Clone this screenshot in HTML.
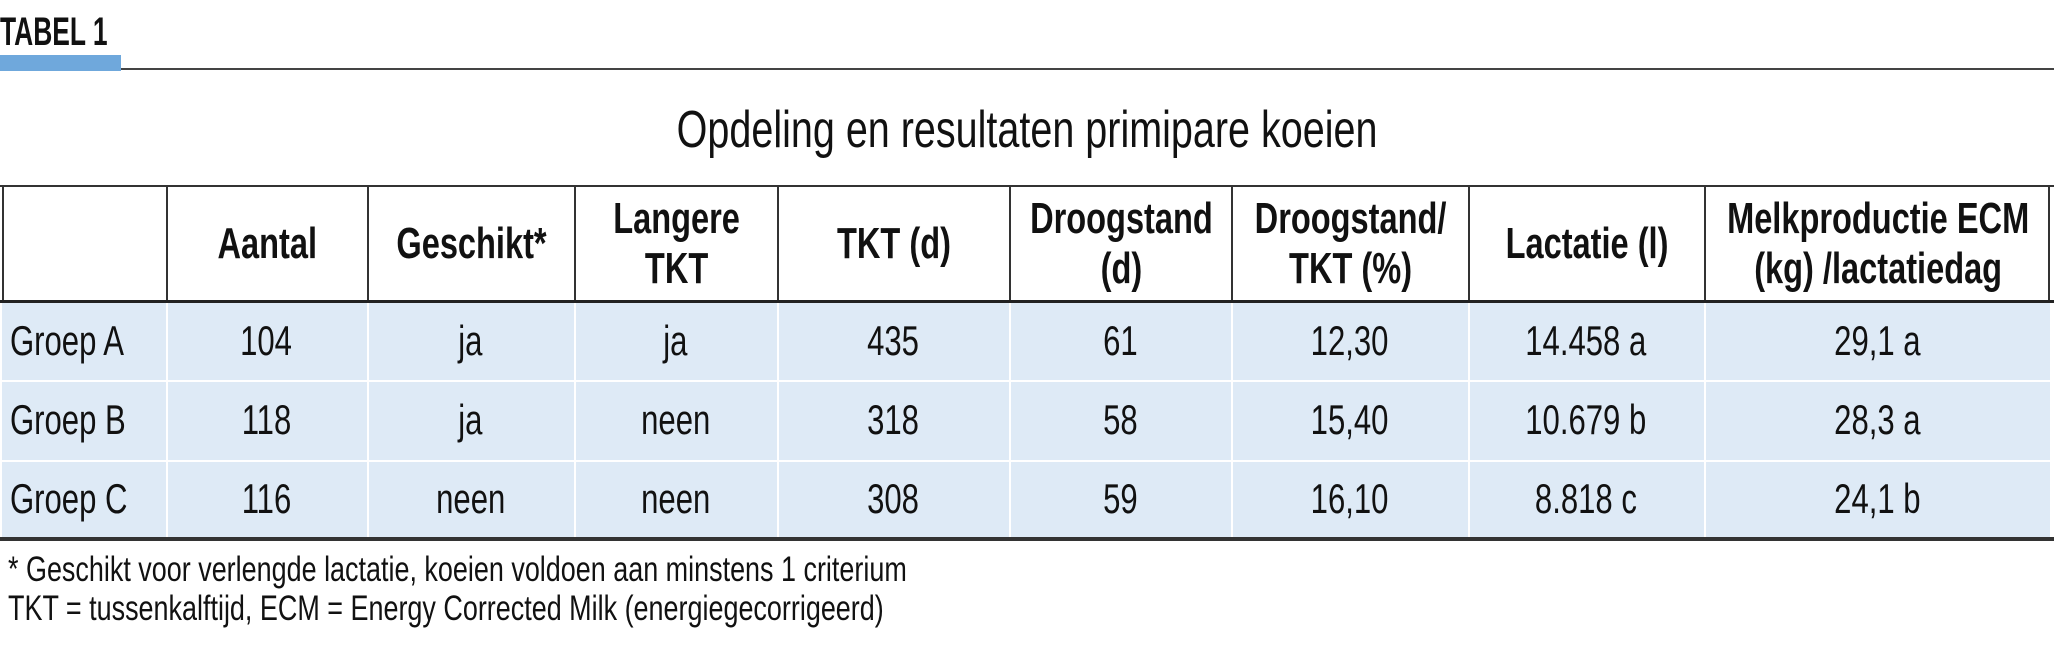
<!DOCTYPE html>
<html><head><meta charset="utf-8"><style>
*{margin:0;padding:0;box-sizing:border-box}
body{width:2054px;height:669px;background:#fff;position:relative;overflow:hidden;font-family:"Liberation Sans",sans-serif;color:#111}
.a{position:absolute}
.c{position:absolute;display:flex;align-items:center;justify-content:center;text-align:center}
.s{display:inline-block;transform:scaleX(0.74);white-space:nowrap}
.b{font-weight:bold;font-size:44px;line-height:50px}
.n{font-size:42px}
.l{justify-content:flex-start}
.l .s{transform-origin:left center}
</style></head><body>
<div class="a" style="left:0;top:10px;font-weight:bold;font-size:40px;"><span class="s" style="transform:scaleX(0.66);transform-origin:left">TABEL 1</span></div>
<div class="a" style="left:0;top:55px;width:121px;height:16px;background:#6fa8dc"></div>
<div class="a" style="left:121px;top:68px;width:1933px;height:2px;background:#444"></div>
<div class="c" style="left:0;top:100px;width:2054px;height:60px;font-size:52px"><span class="s" style="transform:scaleX(0.76)">Opdeling en resultaten primipare koeien</span></div>
<div id="tbl"></div>
<div class="a" style="left:8px;top:550px;font-size:35px"><span class="s" style="transform:scaleX(0.77);transform-origin:left">* Geschikt voor verlengde lactatie, koeien voldoen aan minstens 1 criterium</span></div>
<div class="a" style="left:8px;top:589px;font-size:35px"><span class="s" style="transform:scaleX(0.77);transform-origin:left">TKT = tussenkalftijd, ECM = Energy Corrected Milk (energiegecorrigeerd)</span></div>
<script>
const headers=["","Aantal","Geschikt*","Langere<br>TKT","TKT (d)","Droogstand<br>(d)","Droogstand/<br>TKT (%)","Lactatie (l)","Melkproductie ECM<br>(kg) /lactatiedag"];
const groups=["Groep A","Groep B","Groep C"];
const rowA=["104","ja","ja","435","61","12,30","14.458 a","29,1 a"];
const rowB=["118","ja","neen","318","58","15,40","10.679 b","28,3 a"];
const rowC=["116","neen","neen","308","59","16,10","8.818 c","24,1 b"];
const rows=[rowA,rowB,rowC];
const xs=[2,166,367,574,777,1009,1231,1468,1704,2050];
const hy=[185,302], ry=[302,380,460,538];
const t=document.getElementById('tbl');
function add(html,cls,x,y,w,h,style){const d=document.createElement('div');d.className=cls;d.style.cssText=`left:${x}px;top:${y}px;width:${w}px;height:${h}px;`+(style||'');d.innerHTML=html;t.appendChild(d);return d;}
for(let r=0;r<3;r++)for(let c=0;c<9;c++){
 const d=add('','a',xs[c]+(c?2:0),ry[r]+(r?2:1),xs[c+1]-xs[c]-(c?2:0),ry[r+1]-ry[r]-(r?2:1),'background:#deeaf6');
 
 
}
for(let c=0;c<9;c++){
 const d=add('<span class="s">'+headers[c]+'</span>','c b',xs[c],hy[0],xs[c+1]-xs[c],hy[1]-hy[0],'border:2px solid #333;border-right:none;');
 
 
}
const rb=add('','a',xs[9]-2,hy[0],2,hy[1]-hy[0],'background:#333');


const tb=add('','a',0,hy[0],2054,2,'background:#333');


const hb=add('','a',0,hy[1]-2,2054,3,'background:#222');


for(let r=0;r<3;r++){
 const g=add('<span class="s">'+groups[r]+'</span>','c n l',xs[0]+8,ry[r],xs[1]-xs[0]-8,ry[r+1]-ry[r]);
 
 
 for(let c=0;c<8;c++){
  const d=add('<span class="s">'+rows[r][c]+'</span>','c n',xs[c+1],ry[r],xs[c+2]-xs[c+1],ry[r+1]-ry[r]);
  
  
 }
}
const bb=add('','a',0,ry[3]-1,2054,4,'background:#333');


</script>
</body></html>
